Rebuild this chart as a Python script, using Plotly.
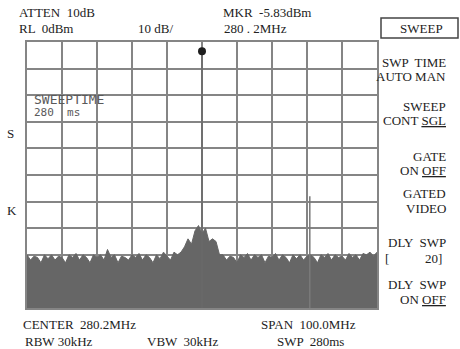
import plotly.graph_objects as go

# ---- data ----
f_start = 230.2          # MHz (left edge)
f_step = 1.0             # MHz between noise samples
noise_dbm = [
    -80, -82, -80.5, -81, -83, -80, -81.5, -80, -82, -80.5,
    -81, -83, -80, -81, -79.5, -82, -80, -81, -83, -80,
    -81, -80, -82, -78, -81, -80, -83, -80.5, -81, -82,
    -80, -81, -79.5, -82, -80, -81, -83, -80, -81.5, -79,
    -80.5, -82, -79, -80, -79, -77, -74, -76, -71, -69,
    -72, -70, -75, -74, -75, -80, -80, -82, -80.5, -81,
    -83, -80, -81, -79.5, -82, -80, -81, -80, -83, -80.5,
    -81, -79.5, -82, -80, -81, -83, -80, -81.5, -80, -82,
    -80.5, -80, -81, -83, -80, -81, -79.5, -82, -80, -81,
    -80.5, -82, -79.5, -81, -80, -82, -79.5, -80, -79, -80.5,
    -79,
]
noise_freq = [round(f_start + i * f_step, 1) for i in range(len(noise_dbm))]

peak_freq = 280.2
peak_dbm = -3.5
spur_freq = 311.0
spur_dbm = -58.0

ref_level = 0
bottom_level = -100
span_start, span_stop = 230.2, 330.2

# ---- layout geometry (pixels) ----
W, H = 460, 349
L, R, T, B = 27, 377, 42, 308


def px(x):
    return (x - L) / (R - L)


def py(y):
    return (B - y) / (B - T)


GRID = "#858585"
NOISE = "#666666"
SERIF = "Liberation Serif"

fig = go.Figure()

# baseline for fill
fig.add_trace(go.Scatter(x=[noise_freq[0], noise_freq[-1]], y=[bottom_level, bottom_level],
                         mode="lines", line=dict(width=0, color=NOISE), showlegend=False,
                         hoverinfo="skip"))
fig.add_trace(go.Scatter(x=noise_freq, y=noise_dbm, mode="lines", fill="tonexty",
                         fillcolor=NOISE, line=dict(color=NOISE, width=1),
                         showlegend=False))
# spur
fig.add_trace(go.Scatter(x=[spur_freq, spur_freq], y=[bottom_level, spur_dbm], mode="lines",
                         line=dict(color="#7a7a7a", width=1.5), showlegend=False))
# main carrier
fig.add_trace(go.Scatter(x=[peak_freq, peak_freq], y=[bottom_level, peak_dbm], mode="lines",
                         line=dict(color="#6a6a6a", width=1.5), showlegend=False))
fig.add_trace(go.Scatter(x=[peak_freq], y=[peak_dbm], mode="markers",
                         marker=dict(color="#1e1e1e", size=8), showlegend=False))

fig.update_xaxes(range=[span_start, span_stop], tick0=span_start, dtick=10,
                 showticklabels=False, ticks="", showgrid=True, gridcolor=GRID, gridwidth=2,
                 zeroline=False, showline=True, mirror=True, linecolor=GRID, linewidth=2)
fig.update_yaxes(range=[bottom_level, ref_level], tick0=bottom_level, dtick=10,
                 showticklabels=False, ticks="", showgrid=True, gridcolor=GRID, gridwidth=2,
                 zeroline=False, showline=True, mirror=True, linecolor=GRID, linewidth=2)

ann = []


def text(x, y, s, anchor="left", size=13, color="#222", family=SERIF):
    ann.append(dict(x=px(x), y=py(y), xref="paper", yref="paper", text=s, showarrow=False,
                    xanchor=anchor, yanchor="middle",
                    font=dict(family=family, size=size, color=color)))


# header
text(17, 13, "ATTEN  10dB")
text(17, 28, "RL  0dBm")
text(136, 28, "10 dB/")
text(221, 13, "MKR  -5.83dBm")
text(222, 28, "280 . 2MHz")
text(421, 28, "SWEEP", anchor="center")

# right soft keys
RX = 448
text(RX, 62, "SWP  TIME", anchor="right")
text(RX, 76, "AUTO MAN", anchor="right")
text(RX, 106, "SWEEP", anchor="right")
text(RX, 120, "CONT <u>SGL</u>", anchor="right")
text(RX, 156, "GATE", anchor="right")
text(RX, 170, "ON <u>OFF</u>", anchor="right")
text(RX, 193, "GATED", anchor="right")
text(RX, 208, "VIDEO", anchor="right")
text(RX, 242, "DLY  SWP", anchor="right")
text(383, 258, "[")
text(444, 258, "20]", anchor="right")
text(RX, 284, "DLY  SWP", anchor="right")
text(RX, 299, "ON <u>OFF</u>", anchor="right")

# left marks
text(5, 133, "S")
text(5, 210, "K")

# footer
text(21, 324, "CENTER  280.2MHz")
text(23, 341, "RBW 30kHz")
text(145, 341, "VBW  30kHz")
text(259, 324, "SPAN  100.0MHz")
text(275, 341, "SWP  280ms")

# on-screen annotation
text(32, 99, "SWEEPTIME", size=13, color="#5a5a5a", family="DejaVu Sans Mono")
text(32, 113, "280  ms", size=11, color="#5a5a5a", family="DejaVu Sans Mono")

shapes = [dict(type="rect", xref="paper", yref="paper", x0=px(381), x1=px(458),
               y0=py(38), y1=py(18), line=dict(color="#444", width=1.5))]

fig.update_layout(width=W, height=H, margin=dict(l=L, r=W - R, t=T, b=H - B),
                  paper_bgcolor="white", plot_bgcolor="white", annotations=ann,
                  shapes=shapes, showlegend=False)

fig.write_html("out.html", config={"displayModeBar": False},
               post_script="document.body.style.margin='0';")
